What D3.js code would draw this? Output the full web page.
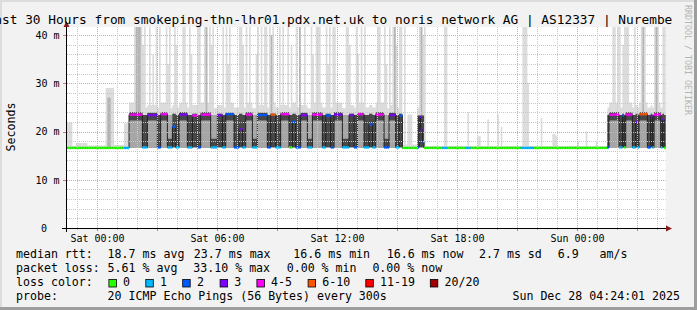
<!DOCTYPE html>
<html><head><meta charset="utf-8">
<script src="https://cdn.jsdelivr.net/npm/d3@7"></script>
<style>
html,body{margin:0;padding:0;background:#f2f2f2;}
svg{display:block;}
text{font-family:"DejaVu Sans Mono",monospace;fill:#000;}
</style></head><body>
<svg id="c" width="697" height="310"></svg>
<script>
// ---------------- data ----------------
const titleText = "Last 30 Hours from smokeping-thn-lhr01.pdx.net.uk to noris network AG | AS12337 | Nuremberg";
const yAxisTitle = "Seconds";
const yTickValues = [0, 10, 20, 30, 40];
const yTickLabels = ["0", "10 m", "20 m", "30 m", "40 m"];
const xTickLabels = ["Sat 00:00", "Sat 06:00", "Sat 12:00", "Sat 18:00", "Sun 00:00"];
const lossBandLabels = ["0", "1", "2", "3", "4-5", "6-10", "11-19", "20/20"];
const lossBandColors = ["#26ff00", "#00b8ff", "#0059ff", "#7e00ff", "#ff00ff", "#ff5500", "#ff0000", "#a10000"];
const statsRtt = ["median rtt:", "18.7 ms avg", "23.7 ms max", "16.6 ms min", "16.6 ms now", "2.7 ms sd", "6.9", "am/s"];
const statsLoss = ["packet loss:", "5.61 % avg", "33.10 % max", "0.00 % min", "0.00 % now"];
const probeText = ["probe:", "20 ICMP Echo Pings (56 Bytes) every 300s"];
const stampText = "Sun Dec 28 04:24:01 2025";
const watermark = "RRDTOOL / TOBI OETIKER";

// 5-minute samples, run-length encoded: number of samples in each run
const runLen = [4,2,7,11,5,6,3,
  8,3,6,2,4,3,2,2,5,3, 3,2,6,4,3,2,5,3,2,2, 4,3,6,2,3,3,5,2,2,3, 4,3,6,2,3,2,5,4,3,2, 4,3,2,2,5,3,4,2,2,
  9,
  1,1,1,1,
  11,3,11,3,30,8,44,
  1,6,2,1,1,4,2,1,1,5,2,1,1,4,1,1,1];
// median rtt (ms)
const runMed = [16.6,16.6,16.6,16.6,16.6,16.6,16.6,
  23.5,16.7,23.4,16.7,23.6,16.7,21.0,16.7,23.5,16.7, 23.3,16.7,23.5,16.7,23.4,16.7,23.6,16.7,20.5,16.7,
  23.5,16.7,23.4,16.7,23.5,16.7,23.6,16.7,22.0,16.7, 23.4,16.7,23.5,16.7,23.3,16.7,23.5,16.7,23.4,16.7,
  23.6,16.7,21.5,16.7,23.5,16.7,23.4,16.7,23.3,
  16.6,
  16.7,23.0,20.3,17.8,
  16.6,16.6,16.6,16.6,16.6,16.6,16.6,
  16.7,23.5,16.7,23.3,16.7,23.5,16.7,22.0,16.7,23.6,16.7,23.2,16.7,23.5,16.7,22.5,16.6];
// lost pings (of 20)
const runLoss = [0,0,0,0,0,0,1,
  4,1,3,2,4,1,2,1,3,1, 4,2,4,1,3,1,2,2,3,1, 4,1,2,2,6,1,4,0,2,2, 3,1,4,1,2,2,3,1,3,2, 4,1,2,1,4,2,3,1,2,
  0,
  2,3,3,2,
  0,1,0,1,0,1,0,
  2,4,1,2,0,4,1,3,1,6,2,3,1,4,1,3,0];
// fastest ping (ms)
const runLo = [16.5,16.5,16.5,16.5,16.5,16.5,16.5,
  16.6,16.6,16.6,16.6,16.6,16.6,16.6,16.6,16.6,16.6, 16.6,16.6,16.6,16.6,16.6,16.6,16.6,16.6,16.6,16.6,
  16.6,16.6,16.6,16.6,16.6,16.6,16.6,16.6,16.6,16.6, 16.6,16.6,16.6,16.6,16.6,16.6,16.6,16.6,16.6,16.6,
  16.6,16.6,16.6,16.6,16.6,16.6,16.6,16.6,16.6,
  16.5,
  16.6,16.6,16.6,16.6,
  16.5,16.5,16.5,16.5,16.5,16.5,16.5,
  16.6,16.6,16.6,16.6,16.6,16.6,16.6,16.6,16.6,16.6,16.6,16.6,16.6,16.6,16.6,16.6,16.6];
// dense core of the ping spread (ms)
const runCoreLo = [16.5,16.5,16.5,16.5,16.5,16.5,16.5,
  22.3,16.7,22.3,16.7,22.3,16.7,16.8,16.7,22.3,16.7, 16.8,16.7,22.3,16.7,16.8,16.7,22.3,16.7,16.8,16.7,
  22.3,16.7,22.3,16.7,16.8,16.7,22.3,16.7,16.8,16.7, 22.3,16.7,22.3,16.7,16.8,16.7,22.3,16.7,16.8,16.7,
  22.3,16.7,16.8,16.7,22.3,16.7,22.3,16.7,16.8,
  16.5,
  16.8,16.8,16.8,16.8,
  16.5,16.5,16.5,16.5,16.5,16.5,16.5,
  16.7,22.3,16.7,16.8,16.7,22.3,16.7,16.8,16.7,22.3,16.7,16.8,16.7,22.3,16.7,16.8,16.7];
const runCoreHi = [16.8,16.8,16.8,16.8,16.8,16.8,16.8,
  24.0,23.4,23.9,23.4,24.0,18.5,23.7,23.4,24.0,23.4, 23.7,23.4,24.0,18.5,23.7,23.4,23.9,23.4,23.7,23.4,
  24.0,18.5,23.9,23.4,23.7,23.4,24.0,23.4,23.7,23.4, 23.9,18.5,24.0,23.4,23.7,23.4,24.0,18.5,23.7,23.4,
  23.9,23.4,23.7,23.4,24.0,18.5,23.9,23.4,23.7,
  16.8,
  23.3,23.3,23.3,23.3,
  16.8,16.8,16.8,16.8,16.8,16.8,16.8,
  23.4,24.0,23.4,23.7,23.4,24.0,23.4,23.7,23.4,24.0,23.4,23.7,23.4,24.0,23.4,23.7,23.4];
// upper edge of the bulk of the pings (ms)
const runBulkHi = [16.8,16.8,16.8,16.8,16.8,16.8,16.8,
  24.0,23.4,23.9,23.4,24.0,23.4,23.7,23.4,24.0,23.4, 23.7,23.4,24.0,23.4,23.7,23.4,23.9,23.4,23.7,23.4,
  24.0,23.4,23.9,23.4,23.7,23.4,24.0,23.4,23.7,23.4, 23.9,23.4,24.0,23.4,23.7,23.4,24.0,23.4,23.7,23.4,
  23.9,23.4,23.7,23.4,24.0,23.4,23.9,23.4,23.7,
  16.8,
  23.3,23.3,23.3,23.3,
  16.8,16.8,16.8,16.8,16.8,16.8,16.8,
  23.4,24.0,23.4,23.7,23.4,24.0,23.4,23.7,23.4,24.0,23.4,23.7,23.4,24.0,23.4,23.7,23.4];
// typical slowest ping (ms)
const runHi = [21.8,17.0,17.6,17.1,29.0,17.2,21.7,
  26,25,25.5,25,26,24.8,25.5,25,26,25, 25.5,25,26,24.8,25.5,25,26,25,25.5,25,
  26,24.8,25.5,25,26,25,25.5,25,26,25, 25.5,24.8,26,25,25.5,25,26,24.8,25.5,25,
  26,25,25.5,25,26,24.8,25.5,25,26,
  17.3,
  25,25,25,25,
  17.0,17.0,17.0,17.0,17.0,17.0,17.0,
  25,26,25,25.5,25,26,25,25.5,25,26,25,25.5,25,26,25,25.5,25];
// single samples whose slowest ping goes higher (sample index, ms)
const spikeIdx = [41,43,44,45,46,47,50,52,54,56,60,61,62,65,66,70,71,74,75,79,80,83,84,86,87,88,94,96,97,98,
  104,105,106,108,110,114,115,117,119,120,122,123,124,128,130,133,135,138,140,143,147,148,150,151,152,156,157,158,160,161,
  168,169,170,174,175,177,179,187,188,191,192,194,196,197,198,200,201,
  203,205,206,207,212,213,214,215,227,228,241,247,248,253,259,261,274,275,276,277,285,292,293,294,307,312,318,
  328,329,331,332,334,335,336,337,341,345,346,347,353,354,355,358,359];
const spikeHi = [45,45,45,45,38,45,45,36,45,45,45,34,45,45,38,45,45,45,36,45,45,45,45,45,38,45,45,45,34,45,
  45,45,38,45,45,36,45,45,45,45,45,34,45,45,45,45,38,45,45,45,45,36,45,45,45,45,34,45,45,45,
  45,45,38,45,36,45,45,45,45,45,34,45,45,45,38,45,45,
  45,23.5,23.5,23.5,45,45,40,45,45,45,24,19,19,22.5,23.5,21,45,45,45,30,22.8,19.5,19.5,19,18,20,18,
  45,45,45,45,38,45,45,45,45,45,36,45,45,45,45,45,45];
// samples where several slow pings stack up (darker smoke column)
const midIdx = [25,26,42,43,44,84,123,140,197,213,346,354];
const midHi  = [27,27,45,45,45,45,40,45,45,45,45,45];

// ---------------- layout ----------------
const W = 697, H = 310;
const plot = {left: 65.7, right: 665.7, top: 27, bottom: 228};
const yMax = 41.66;
const endTime = Date.UTC(2025, 11, 28, 4, 24, 1);
const startTime = endTime - 30 * 3600 * 1000;
const stepMs = 300 * 1000;

const svg = d3.select("#c");
svg.append("rect").attr("width", W).attr("height", H).attr("fill", "#f2f2f2");
svg.append("rect").attr("x", 0).attr("y", 0).attr("width", W).attr("height", 2).attr("fill", "#dcdcdc");
svg.append("rect").attr("x", 0).attr("y", 0).attr("width", 2).attr("height", H).attr("fill", "#dcdcdc");
svg.append("rect").attr("x", W - 3).attr("y", 0).attr("width", 3).attr("height", H).attr("fill", "#9e9e9e");
svg.append("rect").attr("x", 0).attr("y", H - 3).attr("width", W).attr("height", 3).attr("fill", "#9e9e9e");

const x = d3.scaleUtc().domain([new Date(startTime), new Date(endTime)]).range([plot.left, plot.right]);
const y = d3.scaleLinear().domain([0, yMax]).range([plot.bottom, plot.top]);

svg.append("rect").attr("x", 67).attr("y", plot.top).attr("width", plot.right - 67).attr("height", plot.bottom - plot.top).attr("fill", "#ffffff");
svg.append("clipPath").attr("id", "pc").append("rect")
  .attr("x", 67).attr("y", plot.top).attr("width", plot.right - 67 + 0.3).attr("height", plot.bottom - plot.top);

// expand runs to samples
const med = [], loss = [], lo = [], cLo = [], cHi = [], bHi = [], hi = [];
runLen.forEach((n, k) => {
  for (let j = 0; j < n; j++) {
    med.push(runMed[k]); loss.push(runLoss[k]); lo.push(runLo[k]);
    cLo.push(runCoreLo[k]); cHi.push(runCoreHi[k]); bHi.push(runBulkHi[k]); hi.push(runHi[k]);
  }
});
const N = med.length;
spikeIdx.forEach((i, k) => { if (i < N) hi[i] = Math.max(hi[i], spikeHi[k]); });
const mid = lo.slice();
midIdx.forEach((i, k) => { if (i < N) mid[i] = midHi[k]; });
const samples = d3.range(N + 1).map(i => {
  const k = Math.min(i, N - 1);
  return {t: new Date(startTime + i * stepMs), med: med[k], loss: loss[k], lo: lo[k], cLo: cLo[k], cHi: cHi[k], bHi: bHi[k], hi: hi[k], mid: mid[k]};
});

const g = svg.append("g").attr("clip-path", "url(#pc)");
const cap = v => Math.min(v, yMax + 2);
const band = (f0, f1) => d3.area().curve(d3.curveStepAfter).x(d => x(d.t)).y0(d => y(f0(d))).y1(d => y(cap(f1(d))));
g.append("path").datum(samples).attr("d", band(d => d.lo, d => d.hi)).attr("fill", "#dcdcdc");
g.append("path").datum(samples).attr("d", band(d => d.lo, d => d.mid)).attr("fill", "#b4b4b4");
g.append("path").datum(samples).attr("d", band(d => d.lo, d => d.bHi)).attr("fill", "#a6a6a6");
g.append("path").datum(samples).attr("d", band(d => d.cLo, d => d.cHi)).attr("fill", "#484848");

g.append("path").datum(samples).attr("fill", "none").attr("stroke", "#202020").attr("stroke-width", 1)
  .attr("d", d3.line().curve(d3.curveStepAfter).x(d => x(d.t)).y(d => y(d.med)));

function lossBand(l) {
  if (l <= 3) return l;
  if (l <= 5) return 4;
  if (l <= 10) return 5;
  if (l <= 19) return 6;
  return 7;
}
g.selectAll("rect.med").data(samples.slice(0, N)).join("rect").attr("class", "med")
  .attr("x", d => x(d.t)).attr("width", d => x(new Date(+d.t + stepMs)) - x(d.t) + 0.05)
  .attr("y", d => y(d.med) - 1.2).attr("height", 2.4)
  .attr("fill", d => lossBandColors[lossBand(d.loss)]);

// grid on top
const grid = svg.append("g");
const yMinor = d3.range(2, 42, 2).filter(v => v % 10 !== 0);
grid.selectAll("line.ym").data(yMinor).join("line")
  .attr("x1", 67).attr("x2", plot.right).attr("y1", d => Math.round(y(d)) + 0.5).attr("y2", d => Math.round(y(d)) + 0.5)
  .attr("stroke", "#c8c8c8").attr("stroke-dasharray", "1,1");
grid.selectAll("line.yM").data(yTickValues.filter(v => v > 0)).join("line")
  .attr("x1", 67).attr("x2", plot.right).attr("y1", d => Math.round(y(d)) + 0.5).attr("y2", d => Math.round(y(d)) + 0.5)
  .attr("stroke", "#eaa0a0").attr("stroke-dasharray", "1,1");
const hours = d3.utcHour.range(new Date(startTime), new Date(endTime));
grid.selectAll("line.xm").data(hours.filter(h => h.getUTCHours() % 3 !== 0)).join("line")
  .attr("x1", d => Math.floor(x(d)) + 0.5).attr("x2", d => Math.floor(x(d)) + 0.5).attr("y1", plot.top).attr("y2", plot.bottom)
  .attr("stroke", "#c8c8c8").attr("stroke-dasharray", "1,1");
grid.selectAll("line.xM").data(hours.filter(h => h.getUTCHours() % 3 === 0)).join("line")
  .attr("x1", d => Math.floor(x(d)) + 0.5).attr("x2", d => Math.floor(x(d)) + 0.5).attr("y1", plot.top).attr("y2", plot.bottom)
  .attr("stroke", "#eaa0a0").attr("stroke-dasharray", "1,1");

// axes
const ax = svg.append("g");
ax.append("line").attr("x1", 62).attr("x2", 667).attr("y1", 228.5).attr("y2", 228.5).attr("stroke", "#000");
ax.append("line").attr("x1", 66.5).attr("x2", 66.5).attr("y1", 232).attr("y2", 26).attr("stroke", "#000");
ax.append("path").attr("d", "M666,225.5 L672,228.5 L666,231.5 Z").attr("fill", "#8b1a1a");
ax.append("path").attr("d", "M63.5,27 L66.5,21 L69.5,27 Z").attr("fill", "#8b1a1a");
ax.selectAll("line.xt").data(hours).join("line")
  .attr("x1", d => Math.floor(x(d)) + 0.5).attr("x2", d => Math.floor(x(d)) + 0.5)
  .attr("y1", 229).attr("y2", d => d.getUTCHours() % 3 === 0 ? 231 : 230)
  .attr("stroke", d => d.getUTCHours() % 3 === 0 ? "#e07070" : "#b0b0b0");
ax.selectAll("line.yt").data(yTickValues).join("line")
  .attr("x1", 63).attr("x2", 66).attr("y1", d => Math.round(y(d)) + 0.5).attr("y2", d => Math.round(y(d)) + 0.5)
  .attr("stroke", d => d === 0 ? "#000" : "#e07070");

svg.selectAll("text.yl").data(yTickValues).join("text")
  .attr("x", (d, i) => yTickLabels[i].length === 1 ? 47 : 59.5).attr("y", d => y(d) + 3.8)
  .attr("text-anchor", "end").attr("font-size", "10px").text((d, i) => yTickLabels[i]);
const labelHours = hours.filter(h => h.getUTCHours() % 6 === 0);
svg.selectAll("text.xl").data(labelHours).join("text")
  .attr("x", d => Math.floor(x(d)) + 0.5).attr("y", 242)
  .attr("text-anchor", "middle").attr("font-size", "10px").text((d, i) => xTickLabels[i]);

// title: wider than the image, clipped like the reference
svg.append("clipPath").attr("id", "tc").append("rect").attr("x", 0).attr("y", 0).attr("width", 673).attr("height", 27);
svg.append("text").attr("clip-path", "url(#tc)").attr("x", -13.4).attr("y", 24).attr("font-size", "12.8px").text(titleText);

svg.append("text").attr("transform", "translate(15,127) rotate(-90)").attr("text-anchor", "middle")
  .attr("font-size", "11.6px").text(yAxisTitle);

svg.append("text").attr("transform", "translate(685,5) rotate(90)").attr("font-size", "8.3px")
  .style("fill", "#b4b4b4").text(watermark);

// legend
const fs = "11.6px";
const rttX = [16, 107.6, 193.8, 293.3, 386.7, 479, 557.8, 599.5];
statsRtt.forEach((s, i) => svg.append("text").attr("x", rttX[i]).attr("y", 258).attr("font-size", fs).text(s));
const lossX = [16, 107.6, 193.3, 286.7, 372.4];
statsLoss.forEach((s, i) => svg.append("text").attr("x", lossX[i]).attr("y", 272).attr("font-size", fs).text(s));
svg.append("text").attr("x", 16).attr("y", 286).attr("font-size", fs).text("loss color:");
const boxX = [108.4, 145.3, 182.2, 219.6, 256.4, 307.6, 365.3, 429.8];
lossBandLabels.forEach((s, i) => {
  svg.append("rect").attr("x", boxX[i] + 0.5).attr("y", 279.5).attr("width", 7.5).attr("height", 7.5)
    .attr("fill", lossBandColors[i]).attr("stroke", "#000").attr("stroke-width", 0.8);
  svg.append("text").attr("x", boxX[i] + 14.7).attr("y", 286).attr("font-size", fs).text(s);
});
svg.append("text").attr("x", 16).attr("y", 300).attr("font-size", fs).text(probeText[0]);
svg.append("text").attr("x", 107.6).attr("y", 300).attr("font-size", fs).text(probeText[1]);
svg.append("text").attr("x", 680).attr("y", 300).attr("text-anchor", "end").attr("font-size", fs).text(stampText);
</script></body></html>
